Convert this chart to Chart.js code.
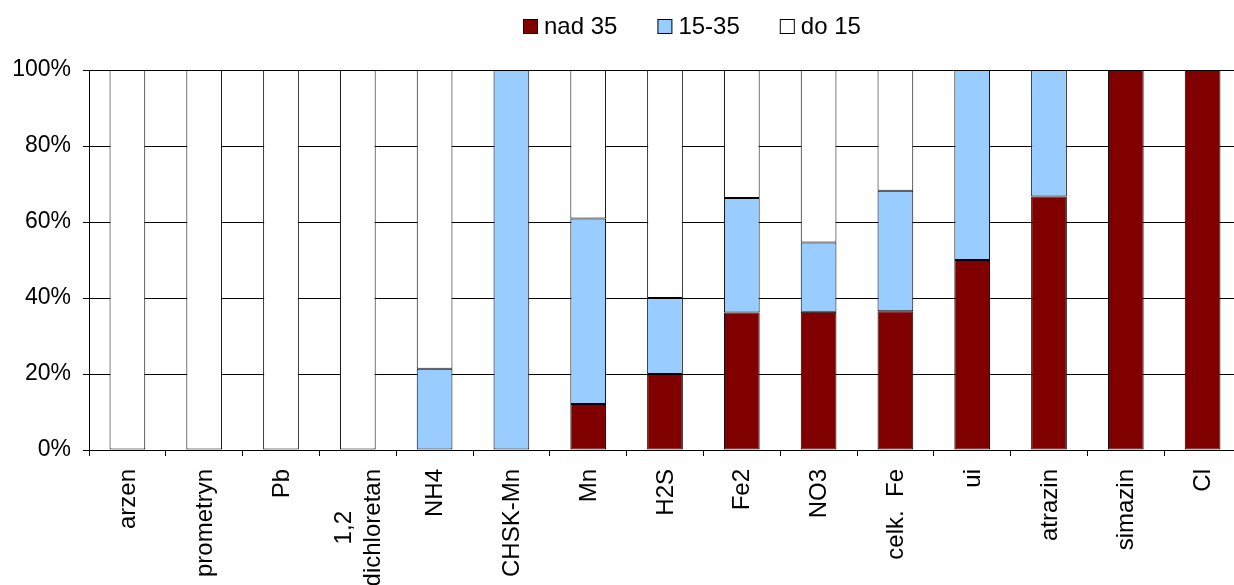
<!DOCTYPE html>
<html>
<head>
<meta charset="utf-8">
<script src="https://cdn.jsdelivr.net/npm/chart.js@4/dist/chart.umd.min.js"></script>
<style>
  html, body { margin: 0; padding: 0; background: #fff; overflow: hidden; }
  #wrap { width: 1250px; height: 585px; position: relative; }
</style>
</head>
<body>
<div id="wrap"><canvas id="c" width="1250" height="585"></canvas></div>
<script>
// Categories (multi-line labels are arrays)
const categories = ['arzen', 'prometryn', 'Pb', ['1,2', 'dichloretan'], 'NH4', 'CHSK-Mn', 'Mn', 'H2S',
  'Fe2', 'NO3', 'celk.  Fe', 'ui', 'atrazin', 'simazin', 'Cl'];

// Share of each class, in percent
const nad35  = [0, 0, 0, 0, 0,    0,   12.1, 20, 36.2, 36.4, 36.5, 50, 66.7, 100, 100];
const od15do35 = [0, 0, 0, 0, 21.4, 100, 48.8, 20, 30.1, 18.2, 31.7, 50, 33.3, 0, 0];
const do15   = [100, 100, 100, 100, 78.6, 0, 39.1, 60, 33.7, 45.4, 31.8, 0, 0, 0, 0];

const seriesNames = ['nad 35', '15-35', 'do 15'];
const yTicks = [0, 20, 40, 60, 80, 100];

const FONT = '"Liberation Sans", Arial, sans-serif';
const TICK_SIZE = 23;
const LABEL_SIZE = 24;

// Rotated category labels, centred line by line
const categoryLabels = {
  id: 'categoryLabels',
  afterDraw(chart) {
    const sx = chart.scales.x;
    const ctx = chart.ctx;
    ctx.save();
    ctx.font = LABEL_SIZE + 'px ' + FONT;
    ctx.fillStyle = '#000';
    ctx.textBaseline = 'middle';
    ctx.textAlign = 'center';
    const lineH = 29;
    categories.forEach((lab, i) => {
      const lines = Array.isArray(lab) ? lab : [lab];
      const maxW = Math.max(...lines.map(l => ctx.measureText(l).width));
      const x = sx.getPixelForTick(i);
      const y = sx.top + 19;
      ctx.save();
      ctx.translate(x, y);
      ctx.rotate(-Math.PI / 2);
      lines.forEach((l, k) => {
        const off = (k - (lines.length - 1) / 2) * lineH;
        ctx.fillText(l, -maxW / 2, off + 1);
      });
      ctx.restore();
    });
    ctx.restore();
  }
};

// Legend row above the plot
const topLegend = {
  id: 'topLegend',
  afterDraw(chart) {
    const ctx = chart.ctx;
    ctx.save();
    ctx.font = LABEL_SIZE + 'px ' + FONT;
    ctx.textBaseline = 'middle';
    ctx.textAlign = 'left';
    let x = 523;
    const y = 26;
    chart.data.datasets.forEach(ds => {
      ctx.fillStyle = ds.backgroundColor;
      ctx.fillRect(x + 0.5, y - 7 + 0.5, 14, 14);
      ctx.strokeStyle = '#000';
      ctx.lineWidth = 1;
      ctx.strokeRect(x + 0.5, y - 7 + 0.5, 14, 14);
      ctx.fillStyle = '#000';
      ctx.fillText(ds.label, x + 21, y + 1);
      x += 21 + ctx.measureText(ds.label).width + 40;
    });
    ctx.restore();
  }
};

const colors = ['#800000', '#99CCFF', '#FFFFFF'];
const values = [nad35, od15do35, do15];

new Chart(document.getElementById('c'), {
  type: 'bar',
  data: {
    labels: categories,
    datasets: values.map((v, i) => ({
      label: seriesNames[i],
      // empty segments are left out so they draw no border
      data: v.map(x => (x === 0 ? null : x)),
      backgroundColor: colors[i],
      borderColor: '#000',
      borderWidth: 1,
      borderSkipped: false,
      categoryPercentage: 1,
      barPercentage: 0.465
    }))
  },
  options: {
    responsive: false,
    animation: false,
    devicePixelRatio: 1,
    layout: { padding: { left: 0, right: 9, top: 70, bottom: 0 } },
    plugins: { legend: { display: false }, tooltip: { enabled: false } },
    scales: {
      x: {
        stacked: true,
        offset: true,
        grid: { display: true, drawOnChartArea: false, drawTicks: true, tickLength: 6, color: '#000', offset: true },
        border: { display: true, color: '#000', width: 1 },
        ticks: { display: false },
        afterFit: (s) => { s.height = 135; }
      },
      y: {
        stacked: true,
        min: 0,
        max: 100,
        afterBuildTicks: (s) => { s.ticks = yTicks.map(v => ({ value: v })); },
        grid: { color: '#000', lineWidth: 1, tickLength: 6, drawTicks: true },
        border: { display: true, color: '#000', width: 1 },
        ticks: {
          color: '#000',
          padding: 12,
          font: { family: FONT, size: TICK_SIZE },
          callback: (v) => v + '%'
        },
        afterFit: (s) => { s.width = 89; }
      }
    }
  },
  plugins: [categoryLabels, topLegend]
});
</script>
</body>
</html>
